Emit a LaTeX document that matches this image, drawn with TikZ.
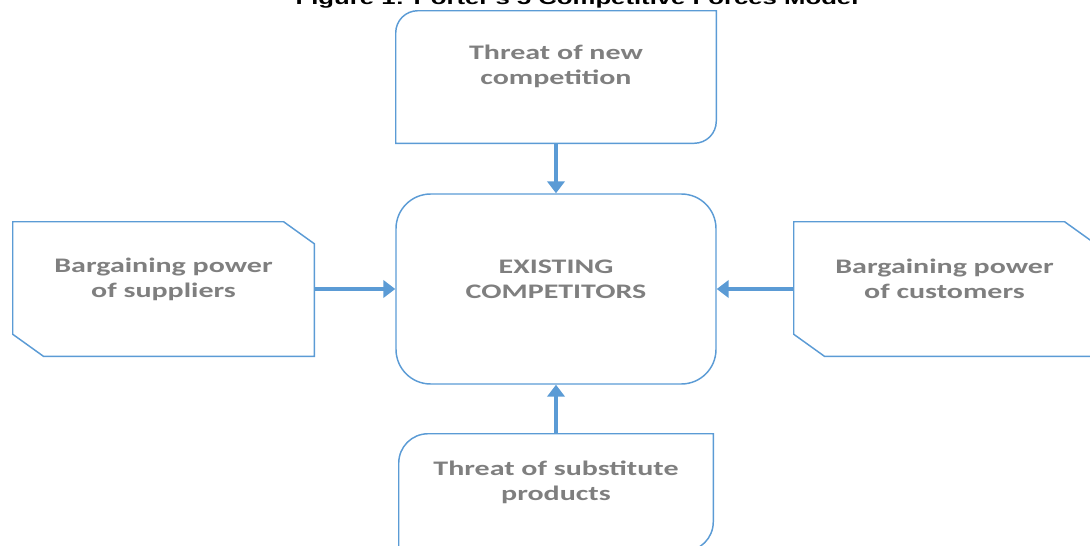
\documentclass[tikz,border=0pt]{standalone}
\usepackage{fontspec}
\usepackage{xcolor}
\definecolor{forceblue}{HTML}{5B9BD5}
\definecolor{forcegray}{HTML}{7F7F7F}
\newfontfamily\forcefont[FakeStretch=1.45]{Carlito}
\newfontfamily\titlefont[FakeStretch=1.45]{Liberation Sans}
\usetikzlibrary{arrows.meta, positioning}
\tikzset{
    forcebox/.style={
        rectangle, draw=none,
        inner sep=0pt
    },
    boxline/.style={
        draw=forceblue,
        line width=1.1pt
    },
    forcetext/.style={
        align=center, text=forcegray,
        font=\forcefont\bfseries\fontsize{15.5}{18.75}\selectfont
    },
    force/.style={
        draw=forceblue, line width=3.2pt,
        -{Triangle[width=13pt, length=9pt]},
    },
    caption/.style={font=\titlefont\bfseries\fontsize{13.3}{16}\selectfont},
}
\begin{document}
\begin{tikzpicture}[x=0.75pt, y=0.75pt]
        \useasboundingbox (0,0) rectangle (1090,-546);
        \node[caption, anchor=base] (title) at (577,-5) {Figure 1: Porter's 5 Competitive Forces Model};

        \node[forcebox, boxline, rounded corners=26pt, minimum width=240pt, minimum height=142.5pt] (core) at (556,-289) {};
        \node[forcebox, minimum width=240pt, minimum height=99pt, above=37.5pt of core] (newent) {};
        \node[forcebox, minimum width=225.75pt, minimum height=100.5pt, left=60.75pt of core] (suppliers) {};
        \node[forcebox, minimum width=225.75pt, minimum height=100.5pt, right=57.75pt of core] (customers) {};
        \node[forcebox, minimum width=235.5pt, minimum height=87.75pt, below=36.75pt of core] (substitutes) {};

        \node[forcetext] (core-txt) at ([yshift=7.5pt]core.center) {EXISTING\\COMPETITORS};
        \node[forcetext] (newent-txt) at ([yshift=8pt]newent.center) {Threat of new\\competition};
        \node[forcetext] (suppliers-txt) at ([yshift=7.5pt]suppliers.center) {Bargaining power\\of suppliers};
        \node[forcetext] (customers-txt) at ([yshift=7.5pt]customers.center) {Bargaining power\\of customers};
        \node[forcetext] (substitutes-txt) at ([yshift=7.5pt]substitutes.center) {Threat of substitute\\products};

        \foreach \b/\r in {newent/16.5pt, substitutes/22pt}
            \draw[boxline] (\b.north) [rounded corners=\r] -- (\b.north west) -- (\b.west)
                [sharp corners] -- (\b.south west) -- (\b.south)
                [rounded corners=\r] -- (\b.south east) -- (\b.east)
                [sharp corners] -- (\b.north east) -- cycle;

        \foreach \b in {suppliers, customers}
            \draw[boxline] (\b.north west) -- ([xshift=-23pt]\b.north east) -- ([yshift=-16.5pt]\b.north east)
                -- (\b.south east) -- ([xshift=23pt]\b.south west) -- ([yshift=16.5pt]\b.south west) -- cycle;

        \foreach \i in {newent, suppliers, customers, substitutes}
            \draw[force] (\i)--(core);
\end{tikzpicture}
\end{document}
